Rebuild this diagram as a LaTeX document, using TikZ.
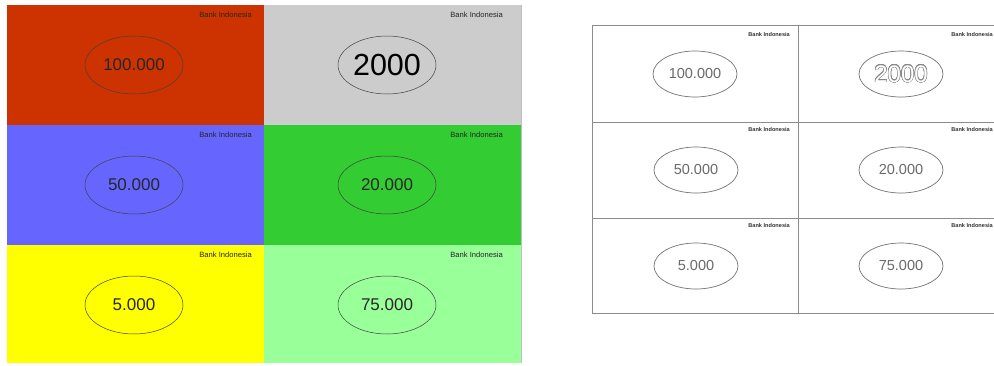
\documentclass[tikz,border=0pt]{standalone}
\usepackage{fontspec}
\setmainfont{Liberation Sans}
\usepackage{contour}
\contournumber{24}
\contourlength{0.45pt}
\usetikzlibrary{shapes.geometric}
\definecolor{cred}{HTML}{CC3300}
\definecolor{cgray}{HTML}{CCCCCC}
\definecolor{cblue}{HTML}{6666FF}
\definecolor{cgreen}{HTML}{33CC33}
\definecolor{cyellow}{HTML}{FFFF00}
\definecolor{clgreen}{HTML}{99FF99}
\definecolor{gridgray}{HTML}{8C8C8C}
\definecolor{numgray}{HTML}{6A6A6A}
\begin{document}
\begin{tikzpicture}[x=1pt,y=-1pt,
  bigoval/.style={ellipse, draw=black!75, line width=0.5pt, minimum width=98pt, minimum height=58pt, inner sep=0pt, font=\fontsize{17}{17}\selectfont, text=black!85},
  bigbank/.style={anchor=east, inner sep=0pt, font=\fontsize{7.6}{8}\selectfont, text=black!85},
  smalloval/.style={ellipse, draw=black!55, line width=0.7pt, minimum width=84pt, minimum height=46pt, inner sep=0pt, font=\fontsize{14.5}{15}\selectfont, text=numgray},
  smallbank/.style={anchor=east, inner sep=0pt, font=\bfseries\fontsize{5.6}{6}\selectfont, text=black!80},
  cellbox/.style={anchor=north west, inner sep=0pt, outer sep=0pt}
]
\useasboundingbox (0,0) rectangle (994,365);
\fill[white] (0,0) rectangle (994,365);
% ---------- left panel ----------
\node[cellbox, fill=cred, minimum width=257pt, minimum height=120pt] (c11) at (7,5) {};
\node[cellbox, fill=cgray, minimum width=257pt, minimum height=120pt] (c12) at (264,5) {};
\node[cellbox, fill=cblue, minimum width=257pt, minimum height=120pt] (c21) at (7,125) {};
\node[cellbox, fill=cgreen, minimum width=257pt, minimum height=120pt] (c22) at (264,125) {};
\node[cellbox, fill=cyellow, minimum width=257pt, minimum height=118pt] (c31) at (7,245) {};
\node[cellbox, fill=clgreen, minimum width=257pt, minimum height=118pt] (c32) at (264,245) {};
\draw[black!25, line width=0.8pt] (521,5) -- (521,363);

\node[bigoval] (e11) at (134,65) {100.000};
\node[bigoval, font=\fontsize{30.5}{31}\selectfont, text=black] (e12) at (387,65) {2000};
\node[bigoval] (e21) at (134,185) {50.000};
\node[bigoval] (e22) at (387,185) {20.000};
\node[bigoval] (e31) at (134,305) {5.000};
\node[bigoval] (e32) at (387,305) {75.000};

\node[bigbank] (b11) at (252,15) {Bank Indonesia};
\node[bigbank] (b12) at (503,15) {Bank Indonesia};
\node[bigbank] (b21) at (252,135) {Bank Indonesia};
\node[bigbank] (b22) at (503,135) {Bank Indonesia};
\node[bigbank] (b31) at (252,255) {Bank Indonesia};
\node[bigbank] (b32) at (503,255) {Bank Indonesia};

% ---------- right panel ----------
\begin{scope}
\clip (0,0) rectangle (994,365);
\draw[gridgray, line width=0.9pt] (592,25) rectangle (1004,313);
\draw[gridgray, line width=0.9pt] (798,25) -- (798,313);
\draw[gridgray, line width=0.9pt] (592,122) -- (1004,122);
\draw[gridgray, line width=0.9pt] (592,218) -- (1004,218);

\node[smalloval] (f11) at (695,74) {100.000};
\node[smalloval, font=\fontsize{24}{24}\selectfont] (f12) at (901,74) {\contour{numgray!80}{\textcolor{white}{2000}}};
\node[smalloval] (f21) at (696,170) {50.000};
\node[smalloval] (f22) at (901,170) {20.000};
\node[smalloval] (f31) at (696,266) {5.000};
\node[smalloval] (f32) at (901,266) {75.000};

\node[smallbank] (g11) at (790,34) {Bank Indonesia};
\node[smallbank] (g12) at (993,34) {Bank Indonesia};
\node[smallbank] (g21) at (790,129) {Bank Indonesia};
\node[smallbank] (g22) at (993,129) {Bank Indonesia};
\node[smallbank] (g31) at (790,225) {Bank Indonesia};
\node[smallbank] (g32) at (993,225) {Bank Indonesia};
\end{scope}
\end{tikzpicture}
\end{document}
